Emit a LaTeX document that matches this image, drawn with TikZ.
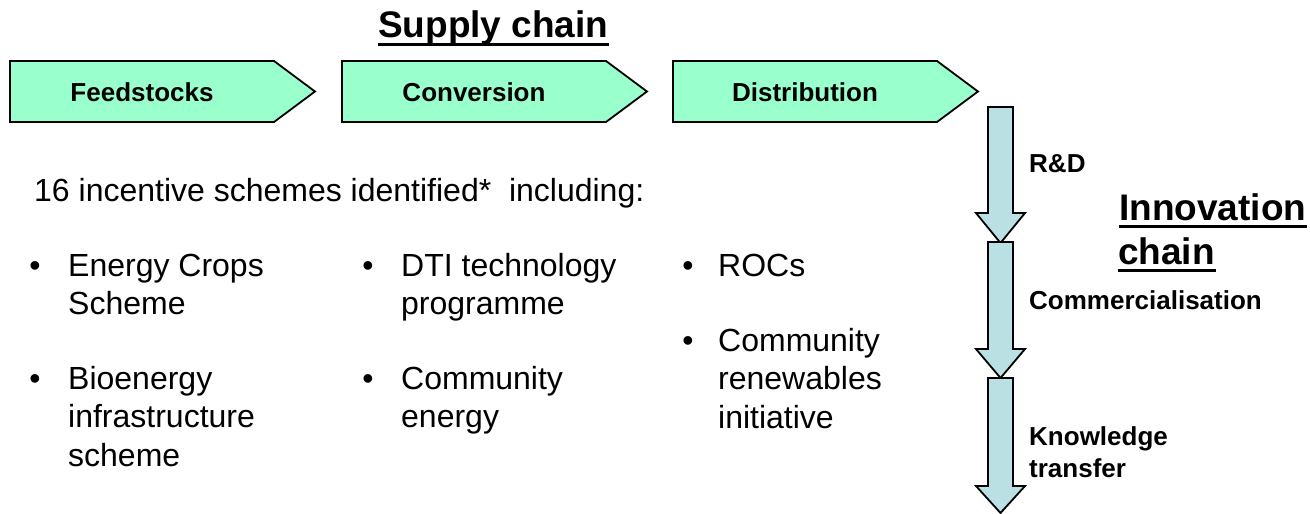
\documentclass[tikz,border=0pt]{standalone}
\usepackage{fontspec}
\setmainfont{Liberation Sans}
\definecolor{mint}{RGB}{153,255,204}
\definecolor{paleblue}{RGB}{187,224,228}
\begin{document}
\begin{tikzpicture}[x=1pt,y=-1pt,
  chev/.style={draw=black, line width=1.8pt, fill=mint, line join=miter},
  downarrow/.style={draw=black, line width=1.8pt, fill=paleblue, line join=miter},
  chevlabel/.style={font=\fontsize{26}{31}\selectfont\bfseries, inner sep=0pt, anchor=base},
  sidelabel/.style={font=\fontsize{26}{32}\selectfont\bfseries, inner sep=0pt, anchor=base west, align=left},
  title/.style={font=\fontsize{37}{45}\selectfont\bfseries, inner sep=0pt, anchor=base west, align=left},
  bodytext/.style={font=\fontsize{32}{38.5}\selectfont, inner sep=0pt, anchor=base west, align=left},
  bulletmark/.style={font=\fontsize{32}{38}\selectfont, inner sep=0pt, anchor=base},
  uline/.style={line width=3pt}]
\useasboundingbox (0,0) rectangle (1310,514);
% chevrons
\foreach \n/\x/\t in {feed/10/Feedstocks, conv/342/Conversion, dist/673/Distribution}{
  \draw[chev] (\x,61) -- ++(264,0) -- ++(41,30.5) -- ++(-41,30.5) -- ++(-264,0) -- cycle;
  \node[chevlabel] (\n) at (\x+132,101) {\t};
}
% title supply chain
\node[title] (supply) at (378,37.5) {Supply chain};
\coordinate (su1) at (378,44.5);
\coordinate (su2) at (609,44.5);
\draw[uline] (su1) -- (su2);
% innovation chain title
\node[title] (innov) at (1119,220) {Innovation};
\node[title] (chain) at (1118,264) {chain};
\draw[uline] (1119,226) -- (1307,226);
\draw[uline] (1118,270) -- (1216,270);
% vertical arrows
\foreach \n/\top/\hb/\tip in {a1/107/213/243, a2/242/349/378, a3/378/486/513}{
  \draw[downarrow] (988,\top) -- (1013,\top) -- (1013,\hb) -- (1025,\hb) -- (1000.5,\tip) -- (976,\hb) -- (988,\hb) -- cycle;
  \coordinate (\n) at (1000.5,\tip);
}
\node[sidelabel] (rd) at (1029,172) {R\&D};
\node[sidelabel] (comm) at (1029,309) {Commercialisation};
\node[sidelabel] (know) at (1029,477) {Knowledge\\transfer};
% body text (anchor = baseline of last line)
\node[bodytext] (intro) at (34,201) {16 incentive schemes identified*\ \ including:};
\node[bulletmark] (b1) at (35,276) {•};
\node[bodytext] (t1) at (68,314.5) {Energy Crops\\Scheme};
\node[bulletmark] (b2) at (35,389) {•};
\node[bodytext] (t2) at (68,466) {Bioenergy\\infrastructure\\scheme};
\node[bulletmark] (b3) at (368,276) {•};
\node[bodytext] (t3) at (401,314.5) {DTI technology\\programme};
\node[bulletmark] (b4) at (368,389) {•};
\node[bodytext] (t4) at (401,427.5) {Community\\energy};
\node[bulletmark] (b5) at (688,276) {•};
\node[bodytext] (t5) at (718,276) {ROCs};
\node[bulletmark] (b6) at (688,351) {•};
\node[bodytext] (t6) at (718,428) {Community\\renewables\\initiative};
\end{tikzpicture}
\end{document}
